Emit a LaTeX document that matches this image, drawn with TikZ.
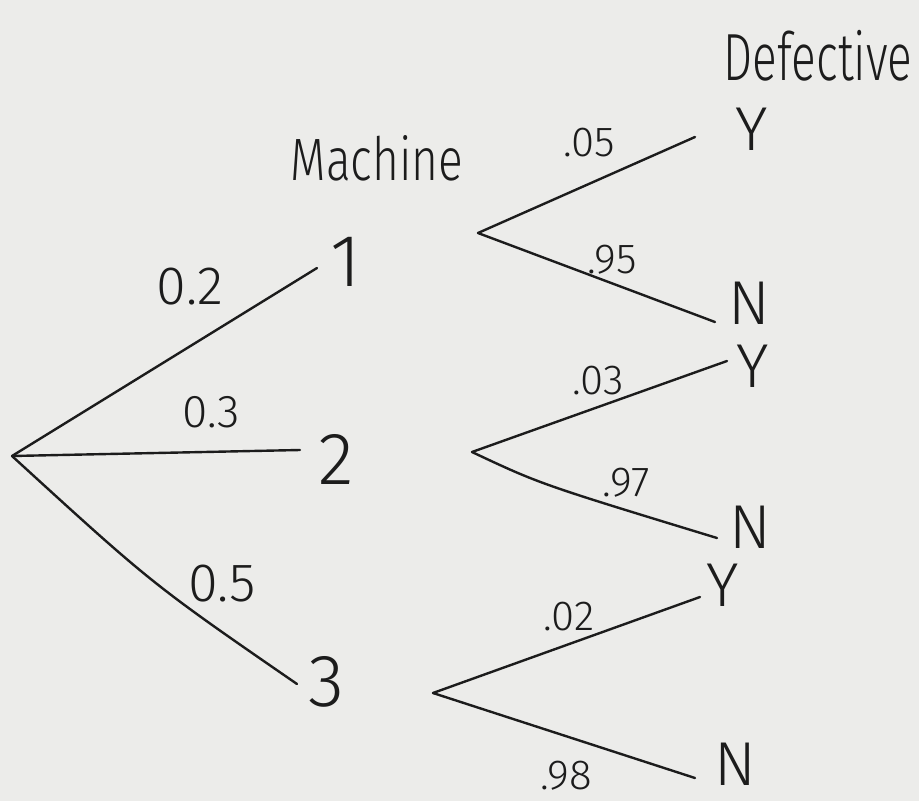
\documentclass[tikz,border=0pt]{standalone}
\usepackage{fontspec}
\usepackage{graphicx}
\setmainfont{Fira Sans}[UprightFont=* Light]
\definecolor{paper}{RGB}{236,236,234}
\definecolor{ink}{RGB}{28,28,28}
\tikzset{
  br/.style={draw=ink, line width=2.4pt, line cap=round},
  mnum/.style={font=\fontsize{74}{74}\selectfont, text=ink, inner sep=0pt},
  yn/.style={font=\fontsize{62}{62}\selectfont, text=ink, inner sep=0pt},
  plab/.style={font=\fontsize{54}{54}\selectfont, text=ink, inner sep=0pt},
  slab/.style={font=\fontsize{42}{42}\selectfont, text=ink, inner sep=0pt},
  head/.style={font=\fontsize{46}{46}\selectfont, text=ink, inner sep=0pt},
}
\begin{document}
\begin{tikzpicture}[x=1pt,y=-1pt]
\fill[paper] (0,0) rectangle (919,801);
\useasboundingbox (0,0) rectangle (919,801);
% headings
\node[head] (hm) at (377,158) {\scalebox{1}[1.3]{Machine}};
\node[head] (hd) at (818,56) {\scalebox{1}[1.45]{Defective}};
% root and machines
\coordinate (r) at (12,456);
\node[mnum] (m1) at (346,262) {1};
\node[mnum] (m2) at (336,459) {2};
\node[mnum] (m3) at (326,682) {3};
\coordinate (e1) at (317,268);
\coordinate (e2) at (300,450);
\coordinate (e3) at (297,684);
\draw[br] (r) -- (e1);
\draw[br] (r) -- (e2);
\draw[br] (r) .. controls (152,584) .. (e3);
\node[plab] (p1) at (190,287) {0.2};
\node[font=\fontsize{46}{46}\selectfont, text=ink, inner sep=0pt] (p2) at (211,412) {0.3};
\node[plab] (p3) at (222,584) {0.5};
% machine 1 branch
\coordinate (v1) at (478,233);
\node[yn] (y1) at (752,129) {Y};
\node[yn] (n1) at (749,303) {N};
\coordinate (a1) at (695,137);
\coordinate (b1) at (715,322);
\draw[br] (v1) -- (a1);
\draw[br] (v1) -- (b1);
\node[slab] (q1) at (589,143) {.05};
\node[slab] (s1) at (612,260) {.95};
% machine 2 branch
\coordinate (v2) at (472,452);
\node[yn] (y2) at (753,366) {Y};
\node[yn] (n2) at (750,527) {N};
\coordinate (a2) at (727,361);
\coordinate (b2) at (717,538);
\draw[br] (v2) -- (a2);
\draw[br] (v2) .. controls (540,484) .. (b2);
\node[slab] (q2) at (598,381) {.03};
\node[slab] (s2) at (626,483) {.97};
% machine 3 branch
\coordinate (v3) at (433,693);
\node[yn] (y3) at (723,585) {Y};
\node[yn] (n3) at (735,764) {N};
\coordinate (a3) at (700,597);
\coordinate (b3) at (695,778);
\draw[br] (v3) -- (a3);
\draw[br] (v3) -- (b3);
\node[slab] (q3) at (569,617) {.02};
\node[slab] (s3) at (566,776) {.98};
\end{tikzpicture}
\end{document}
